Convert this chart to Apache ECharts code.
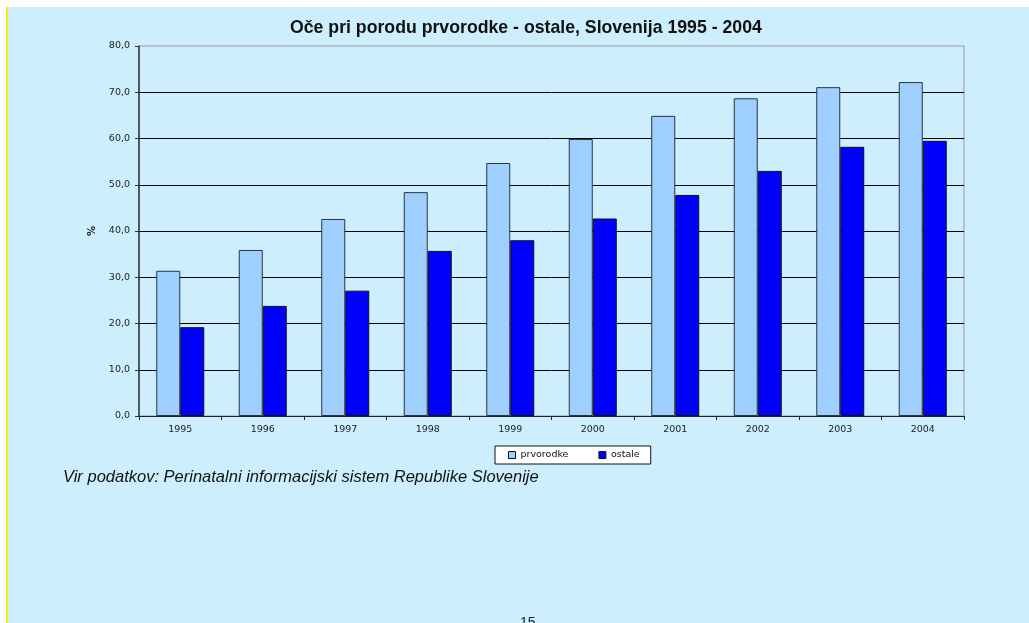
<!DOCTYPE html>
<html><head><meta charset="utf-8">
<script src="https://cdn.jsdelivr.net/npm/echarts@6/dist/echarts.min.js"></script>
<style>html,body{margin:0;padding:0;background:#fff}#c{width:1029px;height:623px}</style>
</head><body><div id="c"></div>
<script>
const years = ['1995','1996','1997','1998','1999','2000','2001','2002','2003','2004'];
const prvorodke = [31.4, 35.9, 42.6, 48.4, 54.7, 59.9, 64.9, 68.7, 71.1, 72.2];
const ostale = [19.2, 23.8, 27.1, 35.7, 38.0, 42.7, 47.8, 53.0, 58.2, 59.5];
const yTicks = {min: 0, max: 80, interval: 10};
const titleText = 'Oče pri porodu prvorodke - ostale, Slovenija 1995 - 2004';
const sourceText = 'Vir podatkov: Perinatalni informacijski sistem Republike Slovenije';
const pageNum = '15';

const chart = echarts.init(document.getElementById('c'), null, {renderer: 'canvas'});
const FF = '"Liberation Sans", Arial, sans-serif';
const FS = '"DejaVu Sans", sans-serif';
chart.setOption({
  backgroundColor: '#ffffff',
  animation: false,
  graphic: [
    {type: 'rect', z: -10, shape: {x: 6, y: 7, width: 1023, height: 616}, style: {fill: '#cdeefd'}, silent: true},
    {type: 'rect', z: -9, shape: {x: 6, y: 7, width: 2, height: 616}, style: {fill: '#f2f200'}, silent: true},
    {type: 'text', left: 63, top: 469, style: {text: sourceText, font: 'italic 16.5px ' + FF, fill: '#111'}},
    {type: 'text', left: 520, top: 616, style: {text: pageNum, font: '14px ' + FF, fill: '#222'}}
  ],
  title: {
    text: titleText, left: 285, top: 14,
    textStyle: {fontFamily: FF, fontSize: 17.7, fontWeight: 'bold', color: '#111'}
  },
  legend: {
    data: ['prvorodke', 'ostale'],
    left: 495, top: 446,
    backgroundColor: '#ffffff', borderColor: '#111', borderWidth: 1, borderRadius: 0,
    padding: [4, 11, 4, 13],
    itemWidth: 7, itemHeight: 7, itemGap: 30, icon: 'rect',
    itemStyle: {borderColor: '#111', borderWidth: 1},
    textStyle: {fontFamily: FS, fontSize: 9.5, color: '#111'}
  },
  grid: {left: 139, right: 65, top: 46, bottom: 207, show: true, borderColor: '#9a9a9a', borderWidth: 1, backgroundColor: 'transparent'},
  xAxis: {
    type: 'category', data: years,
    axisLine: {lineStyle: {color: '#222', width: 1}},
    axisTick: {show: true, length: 4, inside: false, lineStyle: {color: '#222'}},
    axisLabel: {fontFamily: FS, fontSize: 9.5, color: '#222', margin: 9}
  },
  yAxis: {
    type: 'value', min: yTicks.min, max: yTicks.max, interval: yTicks.interval,
    name: '%', nameLocation: 'middle', nameRotate: 90, nameGap: 42,
    nameTextStyle: {fontFamily: FS, fontSize: 10, fontWeight: 'bold', color: '#222'},
    axisLine: {show: true, lineStyle: {color: '#333', width: 1.5}},
    axisTick: {show: true, length: 4, lineStyle: {color: '#333'}},
    axisLabel: {fontFamily: FS, fontSize: 9.5, color: '#222', margin: 9,
      formatter: v => v.toFixed(1).replace('.', ',')},
    splitLine: {show: true, showMaxLine: false, lineStyle: {color: '#000', width: 1}}
  },
  series: [
    {name: 'prvorodke', type: 'bar', data: prvorodke, barWidth: 24, barGap: '0%',
      itemStyle: {color: '#9fcfff', borderColor: '#2a3440', borderWidth: 1}},
    {name: 'ostale', type: 'bar', data: ostale, barWidth: 24, barGap: '0%',
      itemStyle: {color: '#0000ff', borderColor: '#111', borderWidth: 1}}
  ]
});
</script></body></html>
